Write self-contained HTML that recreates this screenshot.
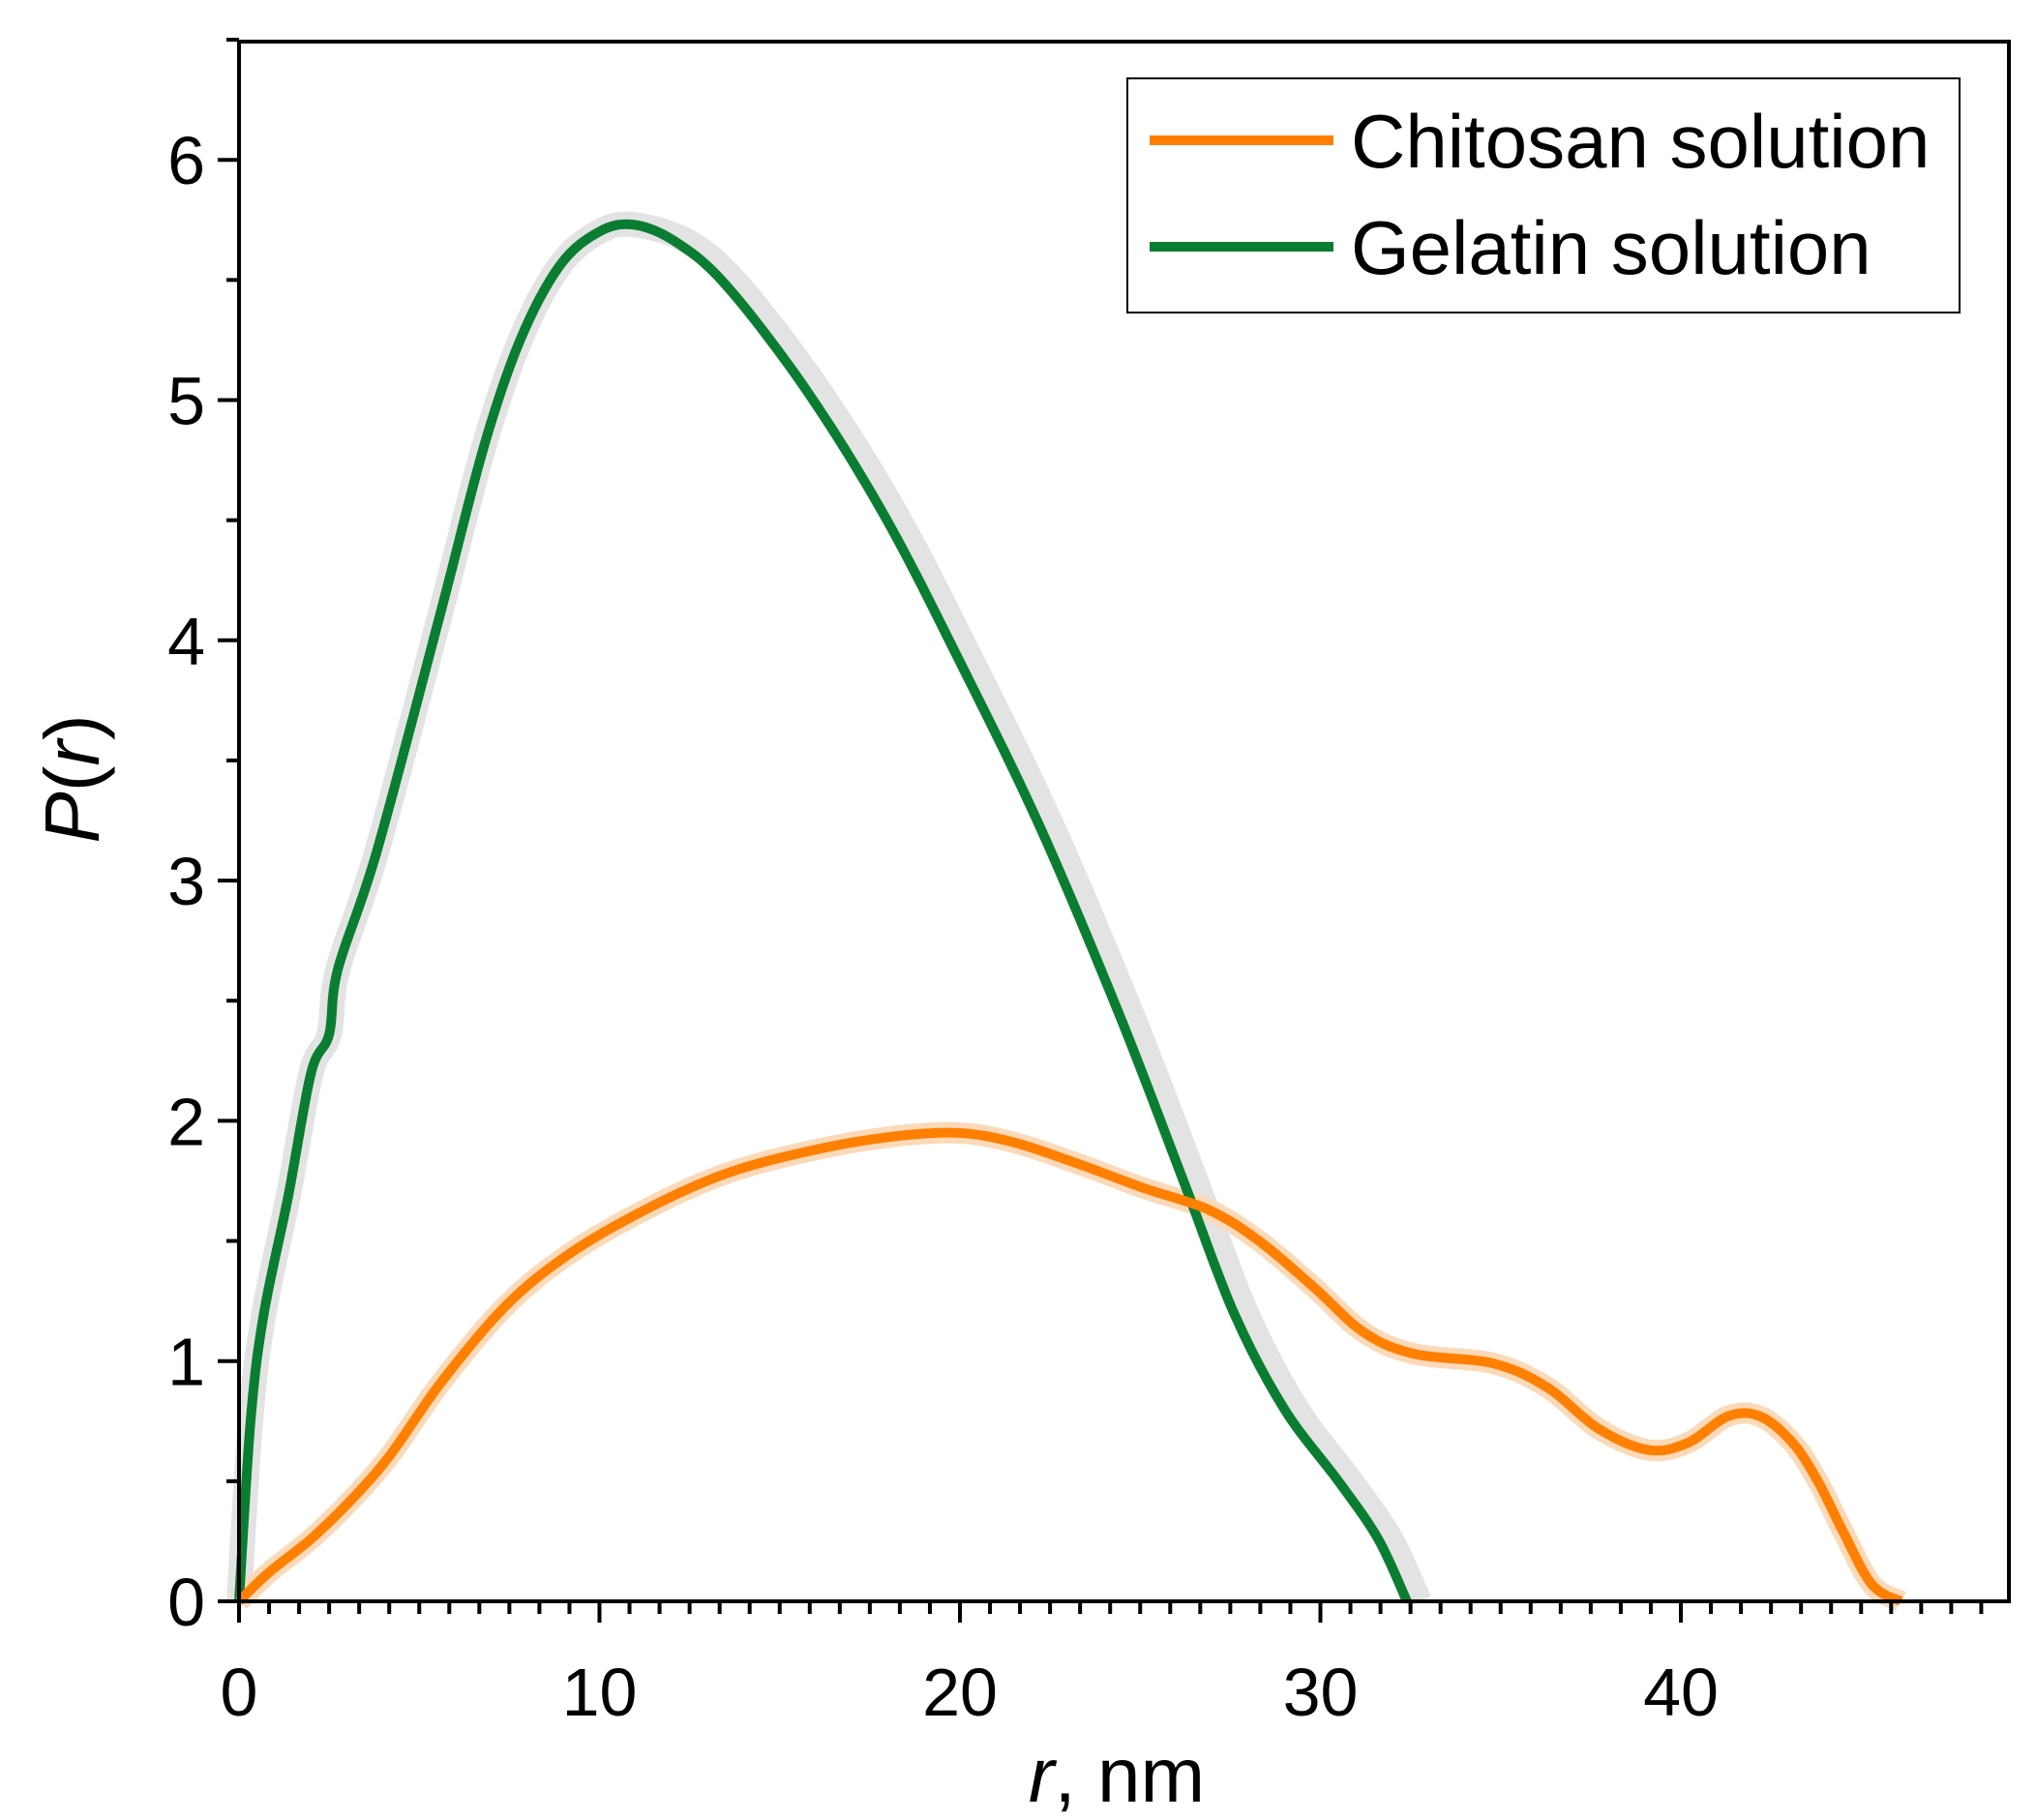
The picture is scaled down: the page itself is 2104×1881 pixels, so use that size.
<!DOCTYPE html>
<html><head><meta charset="utf-8"><style>
html,body{margin:0;padding:0;background:#fff;}
svg{display:block;font-family:"Liberation Sans",sans-serif;}
</style></head><body>
<svg id="chart" width="2104" height="1881" viewBox="0 0 2104 1881"></svg>
<script>
const greenR=[0,0.32,0.68,1.37,2.0,2.5,2.74,3.82,5.6,6.8,7.8,8.9,9.98,10.95,12.1,13.5,15.7,17.9,20.0,22.2,24.4,26.2,27.6,29.0,30.5,31.6,32.4];
const greenP=[0,0.75,1.19,1.69,2.2,2.36,2.63,3.12,4.12,4.81,5.25,5.56,5.70,5.73,5.66,5.48,5.05,4.52,3.91,3.23,2.45,1.75,1.2,0.8,0.5,0.26,0];
const orangeR=[0,0.83,2.0,3.1,4.2,5.6,7.4,9.2,11.4,13.5,15.7,17.9,19.9,21.5,23.3,25.1,26.9,28.3,29.8,31.2,32.6,34.8,36.3,37.7,39.1,40.2,41.3,42.2,43.1,43.8,44.5,45.3,46.1];
const orangeP=[0,0.12,0.26,0.42,0.61,0.91,1.23,1.45,1.64,1.78,1.87,1.93,1.95,1.91,1.82,1.72,1.63,1.5,1.31,1.12,1.03,0.99,0.89,0.72,0.63,0.66,0.77,0.77,0.66,0.5,0.29,0.07,0];
const xTicks=[0,10,20,30,40];
const yTicks=[0,1,2,3,4,5,6];
const seriesNames=["Chitosan solution","Gelatin solution"];

const NS="http://www.w3.org/2000/svg";
const svg=document.getElementById('chart');
const L=247,R=2076,T=43,B=1655;
const X=v=>L+v*37.25;
const Y=v=>B-v*248.3;
function el(tag,attrs,parent){const e=document.createElementNS(NS,tag);for(const k in attrs)e.setAttribute(k,attrs[k]);(parent||svg).appendChild(e);return e;}
function smooth(xs,ys){
  const p=xs.map((x,i)=>[X(x),Y(ys[i])]);
  let d=`M${p[0][0]},${p[0][1]}`;
  for(let i=0;i<p.length-1;i++){
    const p0=p[Math.max(0,i-1)],p1=p[i],p2=p[i+1],p3=p[Math.min(p.length-1,i+2)];
    const c1=[p1[0]+(p2[0]-p0[0])/6,p1[1]+(p2[1]-p0[1])/6];
    const c2=[p2[0]-(p3[0]-p1[0])/6,p2[1]-(p3[1]-p1[1])/6];
    d+=`C${c1[0]},${c1[1]} ${c2[0]},${c2[1]} ${p2[0]},${p2[1]}`;
  }
  return d;
}
// bands
const gb=el('path',{d:smooth(greenR.map(v=>v>11?v+0.35:v),greenP),fill:'none',stroke:'#e3e3e3','stroke-width':26,'stroke-linejoin':'round'});


const ob=el('path',{d:smooth(orangeR,orangeP),fill:'none',stroke:'#fcd9b8','stroke-width':22,'stroke-linejoin':'round'});


const gl=el('path',{d:smooth(greenR,greenP),fill:'none',stroke:'#0a7d32','stroke-width':10,'stroke-linejoin':'round'});


const ol=el('path',{d:smooth(orangeR,orangeP),fill:'none',stroke:'#ff7f00','stroke-width':10,'stroke-linejoin':'round'});


// frame
const fr=el('rect',{x:L,y:T,width:R-L,height:B-T,fill:'none',stroke:'#000','stroke-width':4});


// x ticks
for(let i=0;i*10/12<=49;i++){
  const v=i*10/12;const major=i%12===0;
  const t=el('line',{x1:X(v),x2:X(v),y1:B,y2:B+(major?22:13),stroke:'#000','stroke-width':4});
  
  
}
xTicks.forEach(v=>{
  const t=el('text',{x:X(v),y:1773,'font-size':70,'text-anchor':'middle',fill:'#000'});
  t.textContent=v;
  
  
});
for(let v=0;v<=6.5;v+=0.5){
  const major=Math.abs(v-Math.round(v))<1e-6;
  const t=el('line',{x1:L,x2:L-(major?22:13),y1:Y(v),y2:Y(v),stroke:'#000','stroke-width':4});
  
  
}
yTicks.forEach(v=>{
  const t=el('text',{x:212,y:Y(v)+25,'font-size':70,'text-anchor':'end',fill:'#000'});
  t.textContent=v;
  
  
});
const xt=el('text',{x:1154,y:1862,'font-size':80,'text-anchor':'middle',fill:'#000'});
xt.innerHTML='<tspan font-style="italic">r</tspan>, nm';


const yt=el('text',{x:0,y:0,'font-size':80,'text-anchor':'middle',fill:'#000',transform:'translate(102,805) rotate(-90)'});
yt.innerHTML='<tspan font-style="italic">P</tspan>(<tspan font-style="italic">r</tspan>)';


// legend
const lg=el('g',{});


el('rect',{x:1165,y:81,width:860,height:242,fill:'#fff',stroke:'#000','stroke-width':2},lg);
const cols=['#ff7f00','#0a7d32'];
seriesNames.forEach((n,i)=>{
  const yy=145+i*110;
  const g=el('g',{},lg);
  
  
  el('line',{x1:1188,x2:1378,y1:yy,y2:yy,stroke:cols[i],'stroke-width':10},g);
  const t=el('text',{x:1396,y:yy+28,'font-size':78,fill:'#000'},g);
  t.textContent=n;
});
</script>
</body></html>
